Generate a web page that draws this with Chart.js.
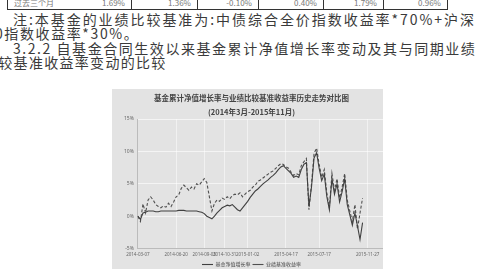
<!DOCTYPE html>
<html>
<head>
<meta charset="utf-8">
<script src="https://cdn.jsdelivr.net/npm/chart.js@4.4.1/dist/chart.umd.min.js"></script>
<style>
  html, body { margin: 0; padding: 0; background: #fff; }
  body { width: 483px; height: 271px; position: relative; overflow: hidden;
         font-family: "Noto Sans CJK SC", "Noto Sans", sans-serif; color: #3a3a3a; }
  .row { position: absolute; top: -8px; left: 7px; height: 17px; border: 1px solid #333;
         border-top: none; display: flex; font-size: 8px; color: #777; }
  .row div { border-right: 1px solid #333; text-align: right; padding-right: 6px;
             box-sizing: border-box; line-height: 22px; white-space: nowrap; }
  .row div:last-child { border-right: none; }
  .row .first { display: flex; justify-content: space-between; padding-left: 6px; }
  .line { position: absolute; font-size: 14px; white-space: nowrap; line-height: 14px; }
  #chartBox { position: absolute; left: 112px; top: 89px; width: 271px; height: 180px; background: #e3e3e3; }
</style>
</head>
<body>
<div class="row">
  <div class="first" style="width:124px"><span>过去三个月</span><span>1.69%</span></div>
  <div style="width:66px">1.36%</div>
  <div style="width:61px">-0.10%</div>
  <div style="width:65px">0.40%</div>
  <div style="width:60px">1.79%</div>
  <div style="width:63px">0.96%</div>
</div>
<div class="line" style="left:13px; top:12px; letter-spacing:1.95px;">注:本基金的业绩比较基准为:中债综合全价指数收益率*70%+沪深</div>
<div class="line" style="left:-5px; top:26px; letter-spacing:1.6px;">0指数收益率*30%。</div>
<div class="line" style="left:13px; top:41px; letter-spacing:1.55px;">3.2.2 自基金合同生效以来基金累计净值增长率变动及其与同期业绩</div>
<div class="line" style="left:-17px; top:55px; letter-spacing:1.3px;">比较基准收益率变动的比较</div>
<div id="chartBox"><canvas id="navChart"></canvas></div>
<script>
// 周度日期(类别轴)
const dates = [
  '2014-03-07','2014-03-14','2014-03-21','2014-03-28','2014-04-04','2014-04-11','2014-04-18','2014-04-25',
  '2014-05-02','2014-05-09','2014-05-16','2014-05-23','2014-05-30','2014-06-06','2014-06-13','2014-06-20',
  '2014-06-27','2014-07-04','2014-07-11','2014-07-18','2014-07-25','2014-08-01','2014-08-08','2014-08-15',
  '2014-08-22','2014-08-29','2014-09-05','2014-09-12','2014-09-19','2014-09-26','2014-10-03','2014-10-10',
  '2014-10-17','2014-10-24','2014-10-31','2014-11-07','2014-11-14','2014-11-21','2014-11-28','2014-12-05',
  '2014-12-12','2014-12-19','2014-12-26','2015-01-02','2015-01-09','2015-01-16','2015-01-23','2015-01-30',
  '2015-02-06','2015-02-13','2015-02-20','2015-02-27','2015-03-06','2015-03-13','2015-03-20','2015-03-27',
  '2015-04-03','2015-04-10','2015-04-17','2015-04-24','2015-05-01','2015-05-08','2015-05-15','2015-05-22',
  '2015-05-29','2015-06-05','2015-06-12','2015-06-19','2015-06-26','2015-07-03','2015-07-10','2015-07-17',
  '2015-07-24','2015-07-31','2015-08-07','2015-08-14','2015-08-21','2015-08-28','2015-09-04','2015-09-11',
  '2015-09-18','2015-09-25','2015-10-02','2015-10-09','2015-10-16','2015-10-23','2015-10-30','2015-11-06',
  '2015-11-13','2015-11-20','2015-11-27','2015-12-04','2015-12-11','2015-12-18','2015-12-25','2016-01-01',
  '2016-01-08'
];

// 显示刻度标签的日期
const tickDates = ['2014-03-07','2014-06-20','2014-09-05','2014-10-31','2015-01-02','2015-04-17','2015-07-17','2015-11-27'];

// 基金累计净值增长率(%)
const fundGrowth = [
  0, -0.5, 0.5, 0.6, 0.8, 0.8, 0.8, 0.7, 0.7, 0.8,
  0.8, 0.8, 0.8, 0.8, 0.8, 0.8, 0.9, 0.9, 0.9, 0.8,
  0.8, 0.8, 0.8, 0.8, 0.7, 0.6, 0.4, 0.0, -0.2, -0.4,
  0.0, 0.5, 0.9, 1.3, 1.5, 1.7, 1.6, 1.8, 1.4, 1.0,
  0.8, 1.3, 1.8, 2.3, 2.9, 3.4, 3.9, 4.2, 4.6, 5.0,
  5.3, 5.6, 6.0, 6.3, 6.7, 7.2, 7.6, 7.8, 7.4, 7.0,
  6.6, 6.0, 6.2, 6.0, 7.2, 8.0, 8.3, 1.5, 4.5, 9.0,
  9.8, 7.4, 5.5, 6.5, 3.0, 1.0, 5.8, 3.4, 5.0, 2.2,
  3.8, 5.8, 1.8, 0.2, -1.4, 0.5, -1.5, -3.6, -1.0,
  null, null, null, null, null, null, null, null
];

// 业绩比较基准收益率(%)
const benchReturn = [
  0, -0.8, 1.9, 0.5, 2.5, 3.0, 2.5, 1.8, 1.5, 1.3,
  1.6, 1.4, 2.0, 1.5, 2.2, 3.0, 3.3, 4.3, 4.8, 4.4,
  4.0, 4.5, 4.2, 5.0, 4.8, 5.3, 5.8, 5.2, 3.0, 0.8,
  2.0, 2.5, 2.3, 2.8, 2.6, 3.0, 2.7, 3.2, 3.4, 3.3,
  3.6, 3.0, 3.4, 3.8, 4.0, 4.5, 4.8, 5.4, 5.6, 5.9,
  6.2, 6.5, 6.8, 7.0, 7.4, 7.8, 8.1, 8.0, 7.6, 7.4,
  6.8, 6.3, 6.6, 6.4, 7.8, 8.4, 8.9, 1.0, 5.0, 9.7,
  10.5, 8.0, 6.0, 7.2, 3.6, 1.3, 6.6, 4.0, 5.8, 2.8,
  4.5, 6.6, 2.5, 0.8, -0.8, 1.8, -2.0, 0.5, 2.8,
  null, null, null, null, null, null, null, null
];

const yTicks = [-5, 0, 5, 10, 15];

document.addEventListener('DOMContentLoaded', () => {
  const ctx = document.getElementById('navChart').getContext('2d');
  new Chart(ctx, {
    type: 'line',
    data: {
      labels: dates,
      datasets: [
        {
          label: '基金净值增长率',
          data: fundGrowth,
          borderColor: '#404040',
          borderWidth: 1.1,
          pointRadius: 0,
          pointStyle: 'line',
          tension: 0
        },
        {
          label: '业绩基准收益率',
          data: benchReturn,
          borderColor: '#505050',
          borderWidth: 1.1,
          borderDash: [3, 2],
          pointRadius: 0,
          pointStyle: 'line',
          tension: 0
        }
      ]
    },
    options: {
      responsive: true,
      maintainAspectRatio: false,
      animation: false,
      layout: { padding: { left: 8, right: 0, top: 0, bottom: -8 } },
      plugins: {
        title: {
          display: true,
          text: ['基金累计净值增长率与业绩比较基准收益率历史走势对比图', '(2014年3月-2015年11月)'],
          color: '#444',
          font: { family: 'Noto Sans CJK SC', size: 7.5, weight: 'bold', lineHeight: 1.87 },
          padding: { top: 2, bottom: 0 }
        },
        legend: {
          position: 'bottom',
          labels: {
            usePointStyle: true,
            pointStyleWidth: 11,
            boxHeight: 4,
            padding: 2,
            color: '#444',
            font: { family: 'Noto Sans CJK SC', size: 5 }
          }
        },
        tooltip: { enabled: false }
      },
      scales: {
        x: {
          grid: { color: 'rgba(255,255,255,0.5)', drawTicks: false },
          border: { color: '#bbb' },
          ticks: {
            autoSkip: false,
            maxRotation: 0,
            padding: 3,
            color: '#666',
            font: { family: 'Noto Sans', size: 4.5 },
            callback: (value, index) => tickDates.includes(dates[index]) ? dates[index] : null
          }
        },
        y: {
          min: yTicks[0],
          max: yTicks[yTicks.length - 1],
          afterBuildTicks: (axis) => { axis.ticks = yTicks.map(v => ({ value: v })); },
          grid: { color: 'rgba(255,255,255,0.6)', drawTicks: false },
          border: { color: '#bbb' },
          ticks: {
            padding: 4,
            color: '#666',
            font: { family: 'Noto Sans', size: 5 },
            callback: (value) => value + '%'
          }
        }
      }
    }
  });
});
</script>
</body>
</html>
